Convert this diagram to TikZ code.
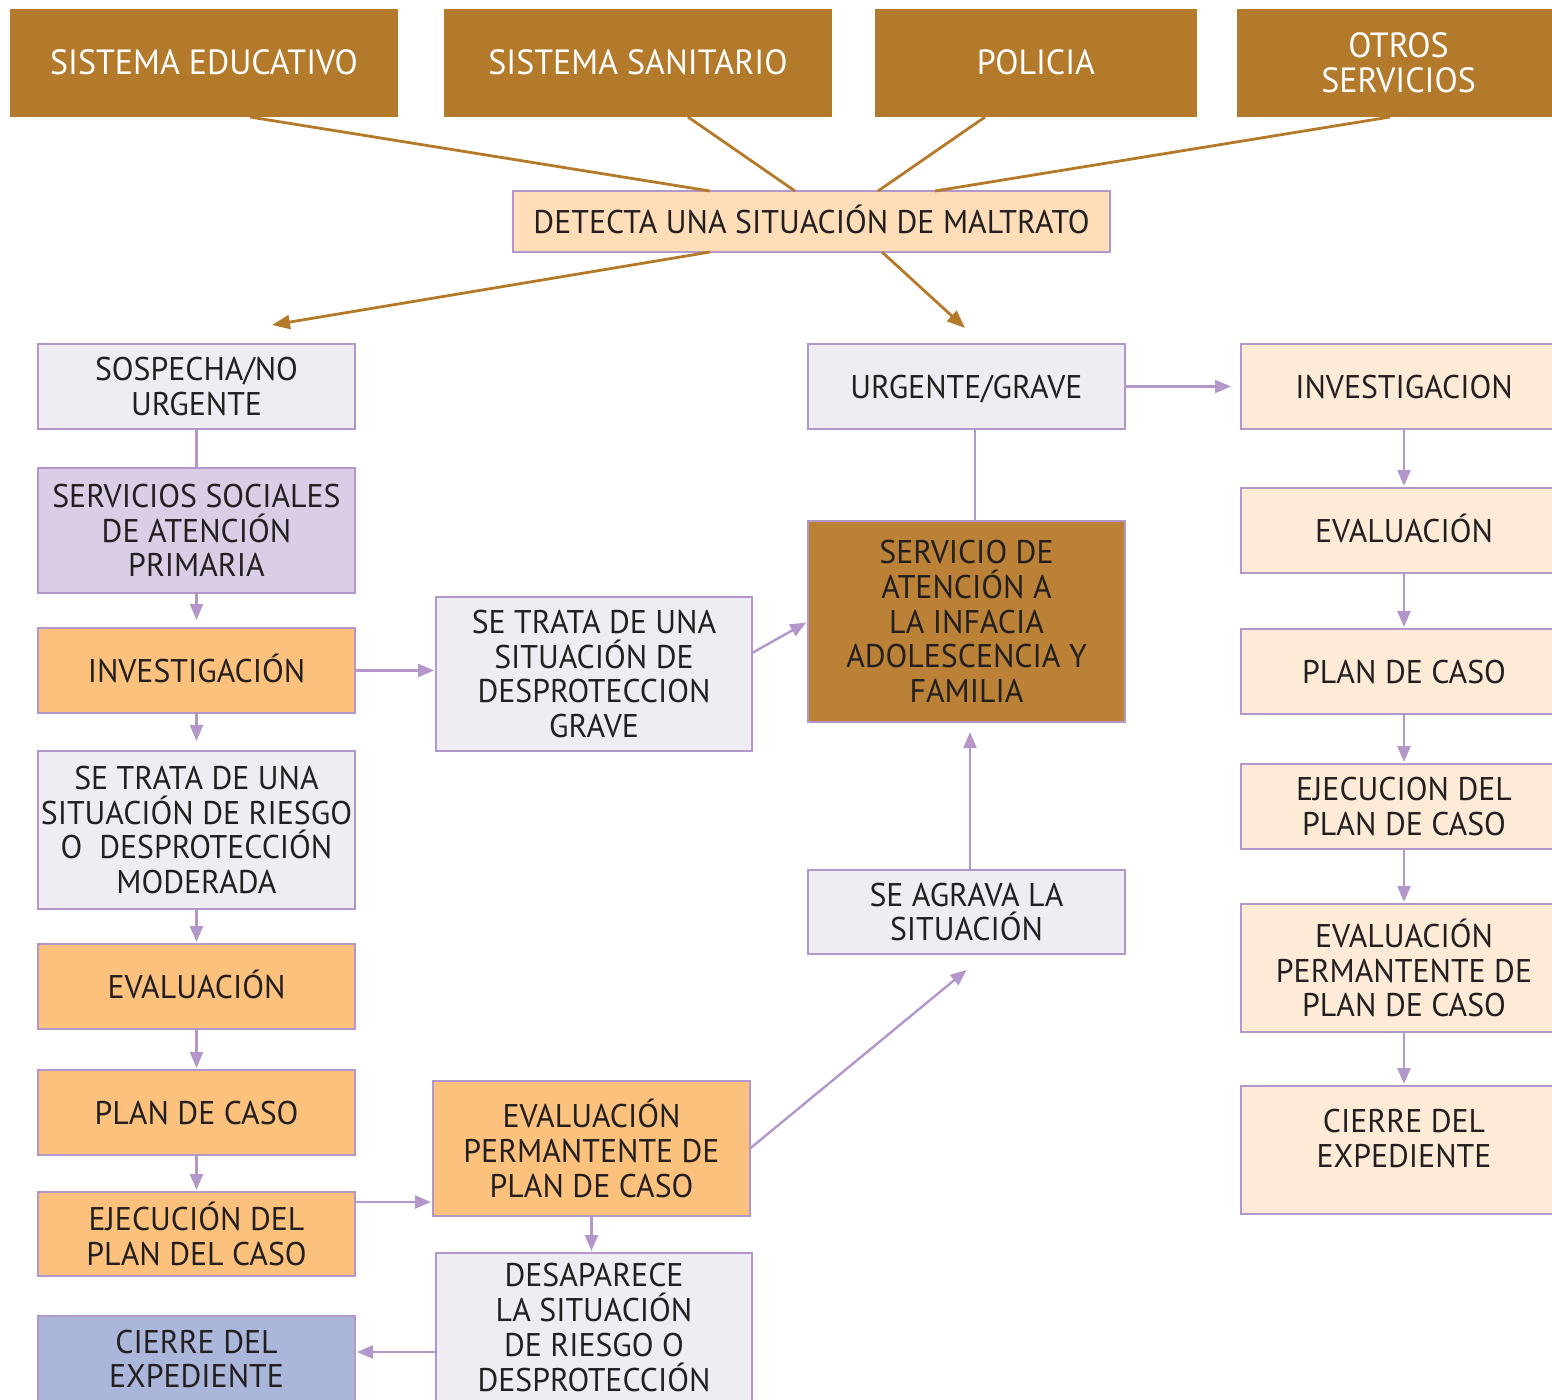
\documentclass[tikz,border=0pt]{standalone}
\usepackage{fontspec}
\setmainfont{PT Sans}[FakeStretch=0.97]
\usetikzlibrary{arrows.meta}
\definecolor{topb}{HTML}{B47A2C}
\definecolor{srvb}{HTML}{BA8137}
\definecolor{lnb}{HTML}{B5792A}
\definecolor{pur}{HTML}{B497CA}
\definecolor{lgt}{HTML}{EFECF4}
\definecolor{lav}{HTML}{DCCDE6}
\definecolor{org}{HTML}{FCC17C}
\definecolor{pch}{HTML}{FEDDB8}
\definecolor{rpch}{HTML}{FDEBD7}
\definecolor{blu}{HTML}{ABB6DB}
\definecolor{txt}{HTML}{231F20}
\newcommand{\mybox}[7]{\node[#6, minimum width={(#4-#2)*0.5pt}, minimum height={(#5-#3)*0.5pt}] (#1) at ({(#2+#4)/2},{(#3+#5)/2}) {#7};}
\tikzset{
  base/.style={inner sep=0pt, outer sep=0pt, align=center, font=\fontsize{16.4}{17.35}\selectfont, text=txt},
  bord/.style={base, draw=pur, line width=1.4pt},
  lightbox/.style={bord, fill=lgt},
  lavbox/.style={bord, fill=lav},
  orgbox/.style={bord, fill=org},
  pchbox/.style={bord, fill=pch},
  rpchbox/.style={bord, fill=rpch},
  blubox/.style={bord, fill=blu},
  srvbox/.style={bord, fill=srvb},
  topbox/.style={base, fill=topb, text=white, font=\fontsize{17.5}{17.6}\selectfont},
  oneline/.style={text height=11.5pt, text depth=0pt},
  brn/.style={draw=lnb, line width=1.4pt},
  brnarr/.style={brn, -{Triangle[length=9pt,width=7pt]}},
  pln/.style={draw=pur, line width=1.2pt},
  parr/.style={pln, -{Triangle[length=8pt,width=6.5pt]}},
}
\begin{document}
\begin{tikzpicture}[x=0.5pt,y=-0.5pt]
\useasboundingbox (0,0) rectangle (1552,1399);
\clip (0,0) rectangle (1552,1399);
% top row
\mybox{edu}{10}{9}{398}{117}{topbox,oneline}{SISTEMA EDUCATIVO}
\mybox{san}{444}{9}{832}{117}{topbox,oneline}{SISTEMA SANITARIO}
\mybox{pol}{875}{9}{1197}{117}{topbox,oneline}{POLICIA}
\mybox{otr}{1237}{9}{1560}{117}{topbox}{OTROS\\SERVICIOS}
\mybox{det}{513}{191}{1110}{252}{pchbox,oneline}{DETECTA UNA SITUACIÓN DE MALTRATO}
% left column
\mybox{sos}{38}{344}{355}{429}{lightbox}{SOSPECHA/NO\\URGENTE}
\mybox{ssap}{38}{468}{355}{593}{lavbox}{SERVICIOS SOCIALES\\DE ATENCIÓN\\PRIMARIA}
\mybox{inv}{38}{628}{355}{713}{orgbox,oneline}{INVESTIGACIÓN}
\mybox{mod}{38}{751}{355}{909}{lightbox}{SE TRATA DE UNA\\SITUACIÓN DE RIESGO\\O\ \ DESPROTECCIÓN\\MODERADA}
\mybox{eva}{38}{944}{355}{1029}{orgbox,oneline}{EVALUACIÓN}
\mybox{plan}{38}{1070}{355}{1155}{orgbox,oneline}{PLAN DE CASO}
\mybox{ejec}{38}{1192}{355}{1276}{orgbox}{EJECUCIÓN DEL\\PLAN DEL CASO}
\mybox{cie}{38}{1316}{355}{1402}{blubox}{CIERRE DEL\\EXPEDIENTE}
% middle column
\mybox{grave}{436}{597}{752}{751}{lightbox}{SE TRATA DE UNA\\SITUACIÓN DE\\DESPROTECCION\\GRAVE}
\mybox{evp}{433}{1081}{750}{1216}{orgbox}{EVALUACIÓN\\PERMANTENTE DE\\PLAN DE CASO}
\mybox{des}{436}{1253}{752}{1402}{lightbox}{DESAPARECE\\LA SITUACIÓN\\DE RIESGO O\\DESPROTECCIÓN}
% center column
\mybox{urg}{808}{344}{1125}{429}{lightbox,oneline}{URGENTE/GRAVE}
\mybox{srv}{808}{521}{1125}{722}{srvbox}{SERVICIO DE\\ATENCIÓN A\\LA INFACIA\\ADOLESCENCIA Y\\FAMILIA}
\mybox{agr}{808}{870}{1125}{954}{lightbox}{SE AGRAVA LA\\SITUACIÓN}
% right column
\mybox{rinv}{1241}{344}{1567}{429}{rpchbox,oneline}{INVESTIGACION}
\mybox{reva}{1241}{488}{1567}{573}{rpchbox,oneline}{EVALUACIÓN}
\mybox{rplan}{1241}{629}{1567}{714}{rpchbox,oneline}{PLAN DE CASO}
\mybox{rejec}{1241}{764}{1567}{849}{rpchbox}{EJECUCION DEL\\PLAN DE CASO}
\mybox{revp}{1241}{904}{1567}{1032}{rpchbox}{EVALUACIÓN\\PERMANTENTE DE\\PLAN DE CASO}
\mybox{rcie}{1241}{1086}{1567}{1214}{rpchbox, text depth=12pt}{CIERRE DEL\\EXPEDIENTE}
% brown connectors
\draw[brn] ([xshift=23pt]edu.south) -- ([xshift=-50.75pt]det.north);
\draw[brn] ([xshift=25pt]san.south) -- ([xshift=-8.25pt]det.north);
\draw[brn] ([xshift=-25.5pt]pol.south) -- ([xshift=33.25pt]det.north);
\draw[brn] ([xshift=-4.25pt]otr.south) -- ([xshift=61.75pt]det.north);
\coordinate (tl) at (272,325);
\coordinate (tr) at (965,328);
\draw[brnarr] ([xshift=-50.75pt]det.south) -- (tl);
\draw[brnarr] ([xshift=35.25pt]det.south) -- (tr);
% left column connectors
\draw[pln] (sos.south) -- (ssap.north);
\draw[parr, shorten >=4pt] (ssap.south) -- (inv.north);
\draw[parr, shorten >=5pt] (inv.south) -- (mod.north);
\draw[parr, shorten >=1pt] (mod.south) -- (eva.north);
\draw[parr, shorten >=1pt] (eva.south) -- (plan.north);
\draw[parr, shorten >=1pt] (plan.south) -- (ejec.north);
% middle connectors
\draw[parr, shorten >=1pt] (inv.east) -- (inv.east -| grave.west);
\draw[parr, shorten >=1pt] ([yshift=10.5pt]grave.east) -- (srv.west);
\coordinate (ep) at ([yshift=16pt]ejec.east);
\draw[parr, shorten >=1pt] (ep) -- (ep -| evp.west);
\draw[parr, shorten >=1pt] (evp.south) -- (evp.south |- des.north);
\coordinate (dp) at ([yshift=-12.25pt]des.west);
\draw[parr, shorten >=1pt] (dp) -- (dp -| cie.east);
\draw[parr] (evp.east) -- ([yshift=-8pt]agr.south);
% center connectors
\coordinate (up) at ([xshift=4.25pt]urg.south);
\draw[pln] (up) -- (up |- srv.north);
\coordinate (ap) at ([xshift=1.75pt]agr.north);
\draw[parr, shorten >=5pt] (ap) -- (ap |- srv.south);
\draw[parr, shorten >=5pt] (urg.east) -- (rinv.west);
% right column
\draw[parr, shorten >=1pt] (rinv.south) -- (reva.north);
\draw[parr, shorten >=1pt] (reva.south) -- (rplan.north);
\draw[parr, shorten >=1pt] (rplan.south) -- (rejec.north);
\draw[parr, shorten >=1pt] (rejec.south) -- (revp.north);
\draw[parr, shorten >=1pt] (revp.south) -- (rcie.north);
\end{tikzpicture}
\end{document}
